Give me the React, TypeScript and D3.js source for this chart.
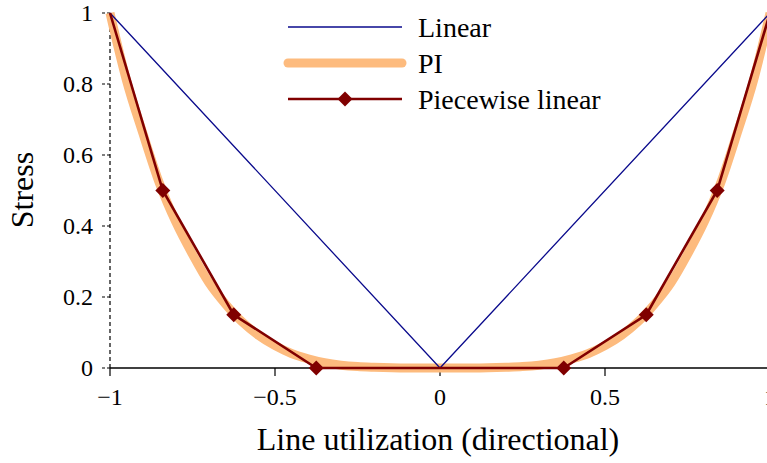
import React from "react";
import * as d3 from "d3";

// Stress as a function of directional line utilization
const linearX = [-1, 0, 1];
const linearY = [1, 0, 1];

const piX = [-1, -0.95, -0.9, -0.85, -0.8, -0.75, -0.7, -0.65, -0.6, -0.55, -0.5, -0.45, -0.4, -0.35, -0.3, -0.25, -0.2, -0.1, 0, 0.1, 0.2, 0.25, 0.3, 0.35, 0.4, 0.45, 0.5, 0.55, 0.6, 0.65, 0.7, 0.75, 0.8, 0.85, 0.9, 0.95, 1];
const piY = [1, 0.81, 0.66, 0.52, 0.41, 0.32, 0.24, 0.18, 0.13, 0.092, 0.063, 0.041, 0.026, 0.015, 0.008, 0.004, 0.002, 0.0, 0, 0.0, 0.002, 0.004, 0.008, 0.015, 0.026, 0.041, 0.063, 0.092, 0.13, 0.18, 0.24, 0.32, 0.41, 0.52, 0.66, 0.81, 1];

const pwX = [-1, -0.84, -0.625, -0.375, 0.375, 0.625, 0.84, 1];
const pwY = [1, 0.5, 0.15, 0, 0, 0.15, 0.5, 1];
// interior breakpoints carry a marker
const pwMarked = [false, true, true, true, true, true, true, false];

const xTicks = [-1, -0.5, 0, 0.5, 1];
const xTickLabels = ["\u22121", "\u22120.5", "0", "0.5", "1"];
const yTicks = [0, 0.2, 0.4, 0.6, 0.8, 1];
const yTickLabels = ["0", "0.2", "0.4", "0.6", "0.8", "1"];

const legendNames = ["Linear", "PI", "Piecewise linear"];

const W = 767;
const H = 463;
const FONT = "'Liberation Serif', 'Times New Roman', serif";
const NAVY = "#0a0a8c";
const ORANGE = "#fdbb7e";
const DARKRED = "#800000";

export default function App() {
  const x = d3.scaleLinear().domain([-1, 1]).range([110, 770]);
  const y = d3.scaleLinear().domain([0, 1]).range([368, 13]);

  const line = d3
    .line<[number, number]>()
    .x((d) => x(d[0]))
    .y((d) => y(d[1]));
  const smooth = d3
    .line<[number, number]>()
    .x((d) => x(d[0]))
    .y((d) => y(d[1]))
    .curve(d3.curveMonotoneX);

  const linPts = linearX.map((v, i) => [v, linearY[i]] as [number, number]);
  const piPts = piX.map((v, i) => [v, piY[i]] as [number, number]);
  const pwPts = pwX.map((v, i) => [v, pwY[i]] as [number, number]);

  const diamond = (cx: number, cy: number, r: number) =>
    `M${cx},${cy - r}L${cx + r},${cy}L${cx},${cy + r}L${cx - r},${cy}Z`;

  const legX0 = 288;
  const legX1 = 402;
  const legRows = [27, 63, 99];

  return (
    <svg
      width={W}
      height={H}
      style={{ position: "absolute", left: 0, top: 0, background: "#fff" }}
      fontFamily={FONT}
    >
      {/* y axis: dashed spine and ticks */}
      <line x1={x(-1)} x2={x(-1)} y1={y(0)} y2={y(1)} stroke="#000" strokeWidth={1.2} strokeDasharray="4,3" />
      {yTicks.map((t, i) => (
        <g key={"yt" + i}>
          <line x1={x(-1) - 8} x2={x(-1)} y1={y(t)} y2={y(t)} stroke="#000" strokeWidth={1.2} strokeDasharray="3,2" />
          <text x={93} y={y(t)} dy="0.35em" textAnchor="end" fontSize={24}>
            {yTickLabels[i]}
          </text>
        </g>
      ))}

      {/* x axis */}
      <line x1={x(-1)} x2={W} y1={y(0)} y2={y(0)} stroke="#000" strokeWidth={1.5} />
      {xTicks.map((t, i) => (
        <g key={"xt" + i}>
          <line x1={x(t)} x2={x(t)} y1={y(0)} y2={y(0) + 8} stroke="#000" strokeWidth={1.2} />
          <text x={x(t)} y={405} textAnchor="middle" fontSize={24}>
            {xTickLabels[i]}
          </text>
        </g>
      ))}

      {/* series */}
      <path d={smooth(piPts) || ""} fill="none" stroke={ORANGE} strokeWidth={9} />
      <path d={line(linPts) || ""} fill="none" stroke={NAVY} strokeWidth={1.3} />
      <path d={line(pwPts) || ""} fill="none" stroke={DARKRED} strokeWidth={2.6} />
      {pwPts.map((p, i) =>
        pwMarked[i] ? <path key={"m" + i} d={diamond(x(p[0]), y(p[1]), 7.5)} fill={DARKRED} /> : null
      )}

      {/* axis titles */}
      <text x={438} y={450} textAnchor="middle" fontSize={32}>
        Line utilization (directional)
      </text>
      <text transform="translate(33,190) rotate(-90)" textAnchor="middle" fontSize={32}>
        Stress
      </text>

      {/* legend */}
      <line x1={legX0} x2={legX1} y1={legRows[0]} y2={legRows[0]} stroke={NAVY} strokeWidth={1.3} />
      <line x1={legX0} x2={legX1} y1={legRows[1]} y2={legRows[1]} stroke={ORANGE} strokeWidth={9} strokeLinecap="round" />
      <line x1={legX0} x2={legX1} y1={legRows[2]} y2={legRows[2]} stroke={DARKRED} strokeWidth={2.6} />
      <path d={diamond((legX0 + legX1) / 2, legRows[2], 7.5)} fill={DARKRED} />
      {legendNames.map((n, i) => (
        <text key={"ln" + i} x={418} y={legRows[i]} dy="0.35em" fontSize={28}>
          {n}
        </text>
      ))}
    </svg>
  );
}
